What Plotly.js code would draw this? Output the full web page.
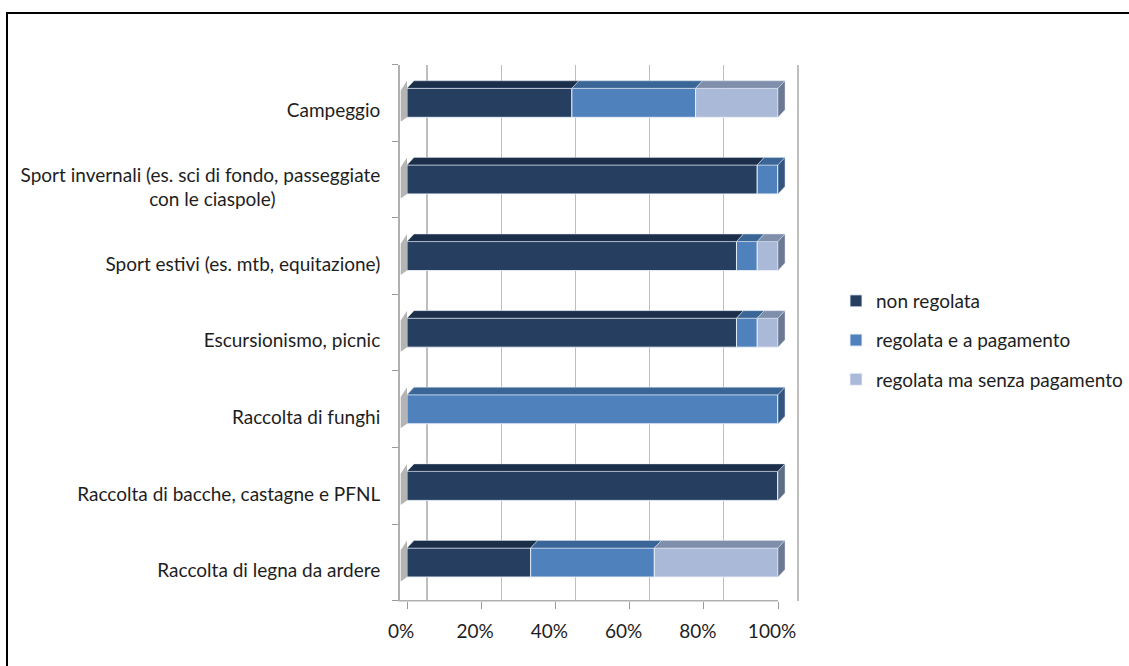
<!DOCTYPE html>
<html><head><meta charset="utf-8">
<script src="https://cdn.plot.ly/plotly-3.0.1.min.js"></script>
<style>
body{margin:0;overflow:hidden;background:#fff}
#frame{position:absolute;left:6px;top:12px;width:1200px;height:700px;border-top:2px solid #000;border-left:2px solid #000;pointer-events:none}
</style>
</head><body>
<div id="chart" style="width:1129px;height:666px"></div>
<div id="frame"></div>
<script>
// ---- data ----
const categories = [
  'Campeggio',
  'Sport invernali (es. sci di fondo, passeggiate<br>con le ciaspole)\u3000\u3000\u3000\u3000\u3000\u00a0\u00a0',
  'Sport estivi (es. mtb, equitazione)',
  'Escursionismo, picnic',
  'Raccolta di funghi',
  'Raccolta di bacche, castagne e PFNL',
  'Raccolta di legna da ardere'
];
const seriesNames = ['non regolata', 'regolata e a pagamento', 'regolata ma senza pagamento'];
const nonRegolata        = [44.4, 94.4, 88.9, 88.9, 0,   100, 33.3];
const regolataPagamento  = [33.3, 5.6,  5.6,  5.6,  100, 0,   33.3];
const regolataSenza      = [22.2, 0,    5.6,  5.6,  0,   0,   33.3];
const xTicks = [0, 20, 40, 60, 80, 100];

// ---- styles ----
const frontColors = ['#263F61', '#4F81BD', '#AAB9D8'];
const topColors   = ['#1B2F4A', '#3A6597', '#7F8EAA'];
const sideColors  = ['#5E6D86', '#34557F', '#6B7891'];
const FONT = 'Lato, "Open Sans", sans-serif';
const FS = 19;

// geometry (pixel layout)
const W = 1129, H = 666;
const pxPerUnit = 3.71;             // px per percent
const x0px = 407;                   // pixel of 0 %
const xMin = -2, xMax = 106;
const plotTop = 64.5, plotBottom = 600.8;
const nCat = categories.length;
const catPx = (plotBottom - plotTop) / nCat;
const BW = 29 / catPx;              // bar thickness (category units)
const DX = 7 / pxPerUnit;           // depth skew in x units
const DY = 7.5 / catPx;             // depth skew in category units
const backShift = 20 / pxPerUnit;   // back-wall gridline shift

const raw = [nonRegolata, regolataPagamento, regolataSenza];
const idx = categories.map((_, i) => i);
const totals = idx.map(i => raw.reduce((s, a) => s + a[i], 0));
const pct = raw.map(a => a.map((v, i) => v / totals[i] * 100));
const bases = pct.map((a, s) => a.map((_, i) => {
  let b = 0; for (let k = 0; k < s; k++) b += pct[k][i]; return b;
}));

const traces = [];
// left wall shadows
{
  const xs = [], ys = [];
  idx.forEach(i => {
    const yt = i - BW / 2, yb = i + BW / 2;
    xs.push(-1.7, 0, 0, -1.7, -1.7, null);
    ys.push(yt + 0.03, yt - DY, yb, yb + DY * 0.6, yt + 0.03, null);
  });
  traces.push({type: 'scatter', mode: 'lines', x: xs, y: ys, fill: 'toself',
    fillcolor: '#B4B4B4', line: {width: 0}, showlegend: false, hoverinfo: 'skip'});
}
// front faces
pct.forEach((a, s) => {
  traces.push({
    type: 'bar', orientation: 'h', name: seriesNames[s], legendgroup: 'g' + s,
    y: idx, x: a, base: bases[s], width: BW,
    marker: {color: frontColors[s], line: {color: 'rgba(235,240,248,0.9)', width: 1}},
    hovertemplate: '%{x:.1f}%<extra>' + seriesNames[s] + '</extra>'
  });
});
// top faces
pct.forEach((a, s) => {
  const xs = [], ys = [];
  idx.forEach(i => {
    if (a[i] <= 0) return;
    const b = bases[s][i], e = b + a[i], yt = i - BW / 2;
    xs.push(b, e, e + DX, b + DX, b, null);
    ys.push(yt, yt, yt - DY, yt - DY, yt, null);
  });
  traces.push({type: 'scatter', mode: 'lines', x: xs, y: ys, fill: 'toself',
    fillcolor: topColors[s], line: {width: 0.6, color: 'rgba(220,228,240,0.8)'},
    showlegend: false, hoverinfo: 'skip', legendgroup: 'g' + s});
});
// side faces (end of each bar)
pct.forEach((a, s) => {
  const xs = [], ys = [];
  idx.forEach(i => {
    let last = -1;
    for (let k = 0; k < pct.length; k++) if (pct[k][i] > 0) last = k;
    if (last !== s) return;
    const e = bases[s][i] + a[i], yt = i - BW / 2, yb = i + BW / 2;
    xs.push(e, e + DX, e + DX, e, e, null);
    ys.push(yt, yt - DY, yb - DY, yb, yt, null);
  });
  traces.push({type: 'scatter', mode: 'lines', x: xs, y: ys, fill: 'toself',
    fillcolor: sideColors[s], line: {width: 0.6, color: 'rgba(220,228,240,0.8)'},
    showlegend: false, hoverinfo: 'skip', legendgroup: 'g' + s});
});

const dl = (x0px + xMin * pxPerUnit) / W;
const dr = (x0px + xMax * pxPerUnit) / W;

const layout = {
  width: W, height: H,
  margin: {l: 0, r: 0, t: 0, b: 0},
  paper_bgcolor: '#fff', plot_bgcolor: 'rgba(0,0,0,0)',
  font: {family: FONT, size: FS, color: '#1e1e1e'},
  barmode: 'overlay',
  showlegend: true,
  legend: {x: 836 / W, y: (H - 282) / H, xanchor: 'left', yanchor: 'top',
    traceorder: 'grouped', tracegroupgap: 11.5, font: {family: FONT, size: FS, color: '#1e1e1e'},
    bgcolor: 'rgba(0,0,0,0)'},
  xaxis: {
    domain: [dl, dr], range: [xMin, xMax], tickvals: xTicks, ticktext: xTicks.map(v => v + '%'),
    showgrid: false, zeroline: false, showline: false,
    ticks: 'outside', ticklen: 7, tickcolor: '#9a9a9a', ticklabelshift: -6,
    ticklabelstandoff: 6, tickfont: {family: FONT, size: FS, color: '#1e1e1e'}, anchor: 'y'
  },
  xaxis2: {
    domain: [dl, dr], range: [xMin - backShift, xMax - backShift], overlaying: 'x', anchor: 'y',
    tickvals: xTicks, showticklabels: false, ticks: '', showgrid: true,
    gridcolor: '#BEBEBE', gridwidth: 1.3, zeroline: false, showline: false
  },
  yaxis: {
    domain: [(H - plotBottom) / H, (H - plotTop) / H], range: [nCat - 0.5, -0.5],
    tickvals: idx, ticktext: categories, ticks: '', showgrid: false, zeroline: false,
    showline: true, linecolor: '#B0B0B0', linewidth: 1.5, ticklabelshift: -8,
    ticklabelstandoff: 14, tickfont: {family: FONT, size: FS, color: '#1e1e1e'},
    minor: {tick0: 0.5, dtick: 1, ticks: 'outside', ticklen: 6, tickcolor: '#9a9a9a', showgrid: false}
  },
  shapes: [
    {type: 'line', xref: 'paper', yref: 'paper', x0: dl - 0.001, x1: (x0px + 100 * pxPerUnit) / W,
     y0: (H - plotBottom) / H, y1: (H - plotBottom) / H, line: {color: '#B0B0B0', width: 1.5}}
  ]
};

// a dummy invisible trace on xaxis2 so the axis exists
traces.push({type: 'scatter', x: [], y: [], xaxis: 'x2', yaxis: 'y', showlegend: false, hoverinfo: 'skip'});

Plotly.newPlot('chart', traces, layout, {displayModeBar: false, staticPlot: true});
</script>
</body></html>
